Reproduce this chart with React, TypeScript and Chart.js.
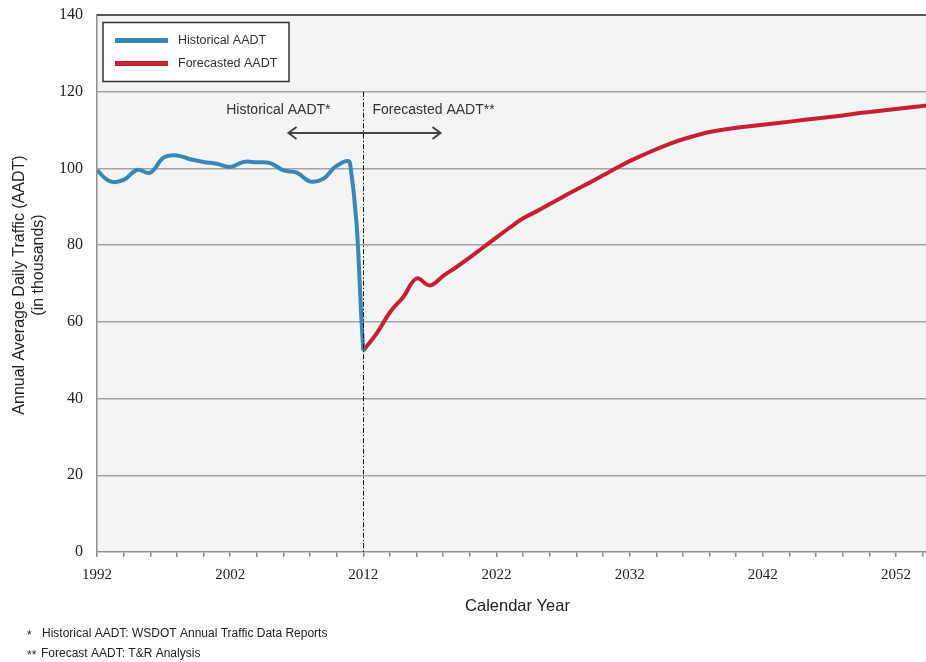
import React, { useEffect, useRef } from "react";
import { Chart, registerables } from "chart.js";

Chart.register(...registerables);

// ---- Data ----
const historicalYears = [1992, 1993, 1994, 1995, 1996, 1997, 1998, 1999, 2000, 2001, 2002, 2003, 2004, 2005, 2006, 2007, 2008, 2009, 2010, 2011, 2012];
const historicalAADT = [99.5, 96.6, 97.0, 99.6, 98.9, 102.8, 103.4, 102.4, 101.7, 101.2, 100.4, 101.7, 101.6, 101.4, 99.5, 98.9, 96.6, 97.3, 100.7, 101.4, 52.5];

const forecastYears = [2012, 2013, 2014, 2015, 2016, 2017, 2018, 2019, 2020, 2021, 2022, 2023, 2024, 2025, 2026, 2027, 2028, 2029, 2030, 2031, 2032, 2033, 2034, 2035, 2036, 2037, 2038, 2039, 2040, 2041, 2042, 2043, 2044, 2045, 2046, 2047, 2048, 2049, 2050, 2051, 2052, 2053, 2054, 2055];
const forecastAADT = [52.5, 57, 62.5, 66.5, 71.3, 69.5, 72.0, 74.3, 76.8, 79.4, 82.0, 84.6, 87.0, 88.8, 90.7, 92.6, 94.5, 96.3, 98.2, 100.1, 101.9, 103.5, 105, 106.4, 107.6, 108.6, 109.5, 110.1, 110.6, 111.0, 111.4, 111.8, 112.2, 112.6, 113.0, 113.4, 113.8, 114.3, 114.7, 115.1, 115.5, 115.9, 116.3, 116.7];

const yTicks = [0, 20, 40, 60, 80, 100, 120, 140];
const xLabelYears = [1992, 2002, 2012, 2022, 2032, 2042, 2052];

const seriesLabels = ["Historical AADT", "Forecasted AADT"];
const seriesColors = ["#3a86b7", "#c82030"];

const SANS = "'Liberation Sans', Arial, sans-serif";
const SERIF = "'Liberation Serif', 'Times New Roman', serif";

const zeroPad = (s: any) => {
  s.paddingTop = 0;
  s.paddingBottom = 0;
  s.paddingLeft = 0;
  s.paddingRight = 0;
};

const decorPlugin = {
  id: "decor",
  beforeDraw(chart: any) {
    const { ctx, chartArea: a } = chart;
    ctx.save();
    ctx.fillStyle = "#f3f4f6";
    ctx.fillRect(a.left, a.top, a.right - a.left, a.bottom - a.top);
    ctx.restore();
  },
  afterDatasetsDraw(chart: any) {
    const { ctx, chartArea: a } = chart;
    const xs = chart.scales.x;
    const ys = chart.scales.y;
    const xl = Math.round(xs.getPixelForValue(2012)) + 0.5;
    ctx.save();
    // top border
    ctx.strokeStyle = "#555";
    ctx.lineWidth = 2;
    ctx.beginPath();
    ctx.moveTo(a.left, a.top);
    ctx.lineTo(a.right, a.top);
    ctx.stroke();

    // dash-dot divider
    ctx.strokeStyle = "#111";
    ctx.lineWidth = 1;
    ctx.setLineDash([5, 2, 1.5, 2]);
    ctx.beginPath();
    ctx.moveTo(xl, ys.getPixelForValue(120));
    ctx.lineTo(xl, a.bottom);
    ctx.stroke();
    ctx.setLineDash([]);

    // labels
    ctx.fillStyle = "#333";
    ctx.font = "14px " + SANS;
    ctx.textBaseline = "middle";
    ctx.textAlign = "right";
    ctx.fillText("Historical AADT*", xl - 33, 110);
    ctx.textAlign = "left";
    ctx.fillText("Forecasted AADT**", xl + 9, 110);

    // double arrow
    const ay = 133;
    const ax1 = xl - 75;
    const ax2 = xl + 77;
    ctx.strokeStyle = "#444";
    ctx.lineWidth = 2;
    ctx.beginPath();
    ctx.moveTo(ax1, ay);
    ctx.lineTo(ax2, ay);
    ctx.moveTo(ax1 + 8, ay - 6);
    ctx.lineTo(ax1, ay);
    ctx.lineTo(ax1 + 8, ay + 6);
    ctx.moveTo(ax2 - 8, ay - 6);
    ctx.lineTo(ax2, ay);
    ctx.lineTo(ax2 - 8, ay + 6);
    ctx.stroke();

    // legend box
    const lx = a.left + 6;
    const ly = a.top + 7.5;
    const lw = 186;
    const lh = 59;
    ctx.fillStyle = "#ffffff";
    ctx.fillRect(lx, ly, lw, lh);
    ctx.strokeStyle = "#333";
    ctx.lineWidth = 1.5;
    ctx.strokeRect(lx, ly, lw, lh);
    ctx.font = "12.5px " + SANS;
    ctx.textAlign = "left";
    ctx.textBaseline = "middle";
    seriesLabels.forEach((lab, i) => {
      const yy = ly + 18 + i * 23;
      ctx.strokeStyle = seriesColors[i];
      ctx.lineWidth = 5;
      ctx.beginPath();
      ctx.moveTo(lx + 12, yy);
      ctx.lineTo(lx + 65, yy);
      ctx.stroke();
      ctx.fillStyle = "#333";
      ctx.fillText(lab, lx + 75, yy);
    });
    ctx.restore();
  },
  afterDraw(chart: any) {
    const { ctx, chartArea: a } = chart;
    ctx.save();
    ctx.fillStyle = "#222";
    ctx.textBaseline = "middle";
    ctx.textAlign = "center";
    // y title
    ctx.font = "16px " + SANS;
    ctx.save();
    ctx.translate(20, 285);
    ctx.rotate(-Math.PI / 2);
    ctx.fillText("Annual Average Daily Traffic (AADT)", 0, 0);
    ctx.restore();
    ctx.save();
    ctx.translate(39, 265);
    ctx.rotate(-Math.PI / 2);
    ctx.fillText("(in thousands)", 0, 0);
    ctx.restore();
    // x title
    ctx.font = "16.5px " + SANS;
    ctx.fillText("Calendar Year", (a.left + a.right) / 2 + 6, 606);
    // footnotes
    ctx.font = "12px " + SANS;
    ctx.textAlign = "left";
    ctx.fillText("*", 27, 636);
    ctx.fillText("Historical AADT: WSDOT Annual Traffic Data Reports", 42, 634);
    ctx.fillText("**", 27, 656);
    ctx.fillText("Forecast AADT: T&R Analysis", 41, 654);
    ctx.restore();
  },
};

export default function App() {
  const ref = useRef<HTMLCanvasElement | null>(null);
  useEffect(() => {
    if (!ref.current) return;
    const chart = new Chart(ref.current, {
      type: "line",
      data: {
        datasets: [
          {
            label: seriesLabels[0],
            data: historicalYears.map((y, i) => ({ x: y, y: historicalAADT[i] })),
            borderColor: seriesColors[0],
            borderWidth: 4,
            pointRadius: 0,
            tension: 0.4,
            fill: false,
          },
          {
            label: seriesLabels[1],
            data: forecastYears.map((y, i) => ({ x: y, y: forecastAADT[i] })),
            borderColor: seriesColors[1],
            borderWidth: 4,
            pointRadius: 0,
            tension: 0.4,
            fill: false,
          },
        ],
      },
      options: {
        responsive: false,
        animation: false,
        devicePixelRatio: 1,
        layout: { padding: { left: 0, right: 0, top: 15, bottom: 0 } },
        plugins: {
          legend: { display: false },
          tooltip: { enabled: false },
        },
        scales: {
          x: {
            type: "linear",
            min: 1992,
            max: 2054.25,
            afterFit: (s: any) => {
              s.height = 110;
              zeroPad(s);
            },
            afterBuildTicks: (s: any) => {
              const t = [];
              for (let v = 1992; v <= 2054; v += 2) t.push({ value: v });
              s.ticks = t;
            },
            ticks: {
              autoSkip: false,
              maxRotation: 0,
              minRotation: 0,
              includeBounds: false,
              padding: 9,
              color: "#222",
              font: { family: SERIF, size: 15 },
              callback: (v: any) => (xLabelYears.includes(Number(v)) ? String(v) : ""),
            },
            grid: {
              drawOnChartArea: false,
              drawTicks: true,
              tickLength: 5,
              color: "#8a8a8a",
              lineWidth: 1.5,
            },
            border: { display: true, color: "#8f8f8f", width: 1.5 },
          },
          y: {
            min: 0,
            max: 140,
            afterFit: (s: any) => {
              s.width = 97;
              zeroPad(s);
            },
            afterBuildTicks: (s: any) => {
              s.ticks = yTicks.map((v) => ({ value: v }));
            },
            ticks: {
              padding: 14,
              color: "#222",
              font: { family: SERIF, size: 16 },
            },
            grid: {
              drawTicks: false,
              color: (c: any) => (c.tick && (c.tick.value === 0 || c.tick.value === 140) ? "rgba(0,0,0,0)" : "#a3a3a3"),
              lineWidth: 1.5,
            },
            border: { display: true, color: "#8f8f8f", width: 1.5 },
          },
        },
      },
      plugins: [decorPlugin],
    } as any);
    return () => chart.destroy();
  }, []);
  return (
    <div style={{ position: "absolute", left: 0, top: 0, width: 926, height: 662, background: "#fff" }}>
      <canvas ref={ref} width={926} height={662} style={{ display: "block" }} />
    </div>
  );
}
